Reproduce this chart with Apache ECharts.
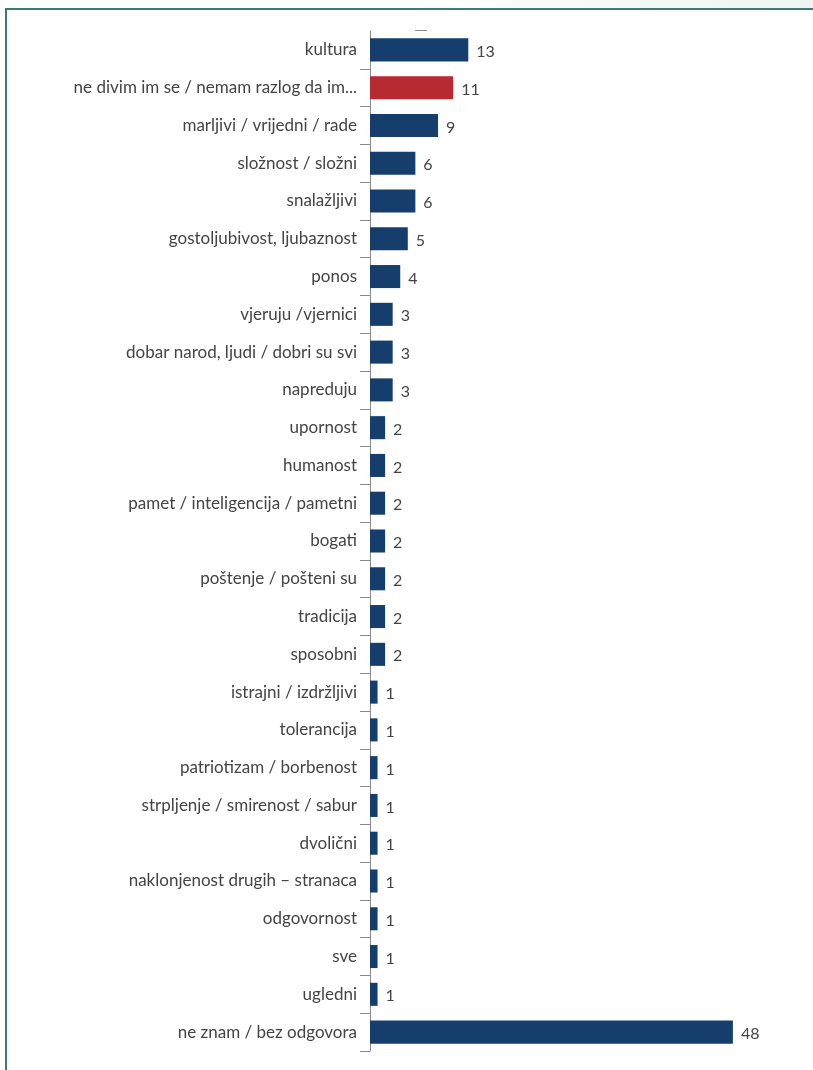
<!DOCTYPE html>
<html>
<head>
<meta charset="utf-8">
<script src="https://cdn.jsdelivr.net/npm/echarts@6/dist/echarts.min.js"></script>
<style>
html,body{margin:0;padding:0;background:#fff;}
#frame{position:absolute;left:5px;top:8px;width:900px;height:1100px;border-left:2px solid #3d7a72;border-top:2px solid #3d7a72;}
#shade{position:absolute;left:400px;top:0;width:413px;height:8px;background:linear-gradient(90deg,#ffffff,#eef4f2);}
#chart{position:absolute;left:0;top:0;width:813px;height:1070px;}
</style>
</head>
<body>
<div id="shade"></div>
<div id="frame"></div>
<div id="chart"></div>
<script>
const categories = [
  "kultura",
  "ne divim im se / nemam razlog da im...",
  "marljivi / vrijedni / rade",
  "složnost / složni",
  "snalažljivi",
  "gostoljubivost, ljubaznost",
  "ponos",
  "vjeruju /vjernici",
  "dobar narod, ljudi / dobri su svi",
  "napreduju",
  "upornost",
  "humanost",
  "pamet / inteligencija / pametni",
  "bogati",
  "poštenje / pošteni su",
  "tradicija",
  "sposobni",
  "istrajni / izdržljivi",
  "tolerancija",
  "patriotizam / borbenost",
  "strpljenje / smirenost / sabur",
  "dvolični",
  "naklonjenost drugih – stranaca",
  "odgovornost",
  "sve",
  "ugledni",
  "ne znam / bez odgovora"
];
const values = [13, 11, 9, 6, 6, 5, 4, 3, 3, 3, 2, 2, 2, 2, 2, 2, 2, 1, 1, 1, 1, 1, 1, 1, 1, 1, 48];
const highlighted = ["ne divim im se / nemam razlog da im..."];

const NAVY = "#163e6d";
const RED = "#b82a32";
const FONT = 'Lato, "Noto Sans", sans-serif';

const chart = echarts.init(document.getElementById('chart'));
chart.setOption({
  animation: false,
  backgroundColor: 'transparent',
  textStyle: { fontFamily: FONT },
  grid: { left: 370, right: 65, top: 31, bottom: 19, containLabel: false },
  xAxis: {
    type: 'value', min: 0, max: 50,
    show: false
  },
  yAxis: {
    type: 'category',
    data: categories,
    inverse: true,
    axisLine: { show: true, lineStyle: { color: '#8a8a8a', width: 1 } },
    axisTick: { show: true, length: 10, interval: (i) => i !== 0, lineStyle: { color: '#8a8a8a' } },
    axisLabel: { color: '#444', fontSize: 17, margin: 13, fontFamily: FONT }
  },
  series: [{
    type: 'bar',
    data: values.map((v, i) => ({
      value: v,
      itemStyle: { color: highlighted.includes(categories[i]) ? RED : NAVY }
    })),
    barCategoryGap: '39%',
    label: {
      show: true, position: 'right', distance: 8, offset: [0, 2],
      color: '#444', fontSize: 16, fontFamily: FONT
    }
  }],
  graphic: [{
    type: 'line', shape: { x1: 415, y1: 30.5, x2: 427, y2: 30.5 },
    style: { stroke: '#8a8a8a', lineWidth: 1 }, silent: true
  }]
});
</script>
</body>
</html>
